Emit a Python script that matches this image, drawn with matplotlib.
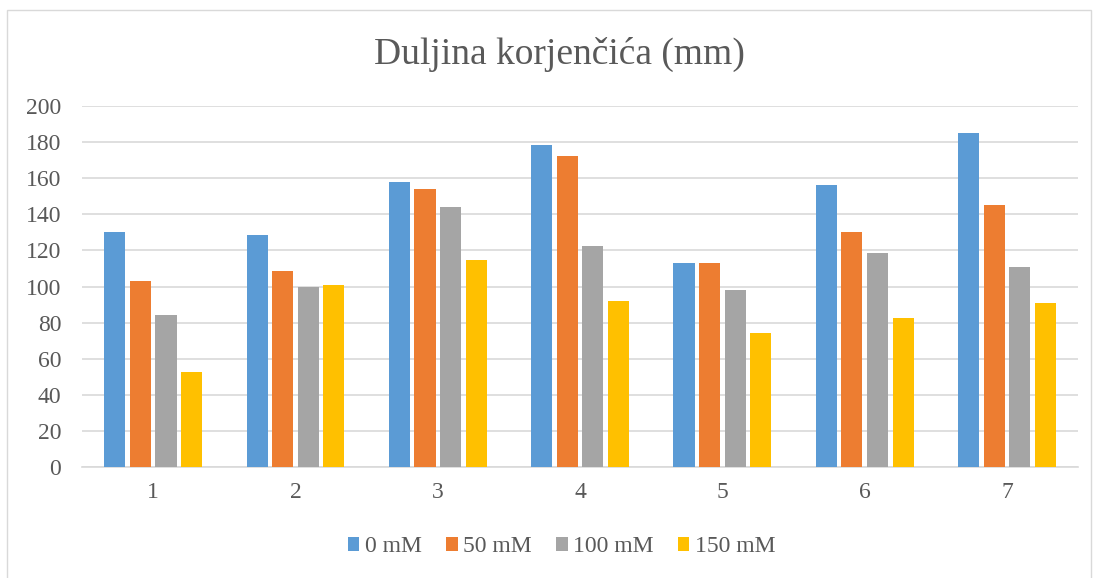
import numpy as np
import matplotlib.pyplot as plt
from matplotlib.patches import Rectangle

categories = ['1', '2', '3', '4', '5', '6', '7']
series = ['0 mM', '50 mM', '100 mM', '150 mM']
v0 = [130.1, 128.3, 158.0, 178.4, 113.3, 156.4, 185.2]
v50 = [103.1, 108.5, 154.3, 172.5, 112.8, 130.3, 145.1]
v100 = [84.1, 100.0, 144.2, 122.2, 98.3, 118.7, 111.1]
v150 = [52.5, 100.9, 114.8, 92.1, 74.5, 82.4, 90.9]
colors = ['#5b9bd5', '#ed7d31', '#a5a5a5', '#ffc000']

plt.rcParams['font.family'] = ['Liberation Serif', 'DejaVu Serif']

fig = plt.figure(figsize=(10.97, 5.78), dpi=100)
# chart frame (bottom edge runs off the image)
fig.patches.append(Rectangle((0.0064, -0.02), 0.988, 1.003, transform=fig.transFigure,
                             fill=False, edgecolor='#d9d9d9', linewidth=1))
ax = fig.add_axes([0.0748, 0.192, 0.908, 0.6245])

x = np.arange(1, len(categories) + 1)
slot = 0.18
width = 0.148
for i, (vals, lab) in enumerate(zip([v0, v50, v100, v150], series)):
    ax.bar(x + (i - 1.5) * slot, vals, width, color=colors[i], label=lab, zorder=3)

ax.set_xlim(0.5, 7.5)
ax.set_ylim(0, 200)
ax.set_yticks(range(0, 201, 20))
ax.set_xticks(x)
ax.set_xticklabels(categories)
ax.grid(axis='y', color='#d9d9d9', linewidth=1.2, zorder=0)
for s in ['top', 'right', 'left']:
    ax.spines[s].set_visible(False)
ax.spines['bottom'].set_color('#d9d9d9')
ax.spines['bottom'].set_linewidth(1.2)
ax.tick_params(axis='both', length=0, labelsize=17, colors='#595959')
ax.tick_params(axis='x', pad=11)
ax.tick_params(axis='y', pad=15)

fig.text(0.51, 0.905, 'Duljina korjenčića (mm)', ha='center', va='center',
         fontsize=27, color='#595959')
fig.legend(loc='center', bbox_to_anchor=(0.512, 0.054), ncol=4, frameon=False,
           fontsize=17, labelcolor='#595959', handlelength=0.5, handleheight=0.5,
           handletextpad=0.25, columnspacing=1.0)

fig.savefig('out.png', dpi=100)
